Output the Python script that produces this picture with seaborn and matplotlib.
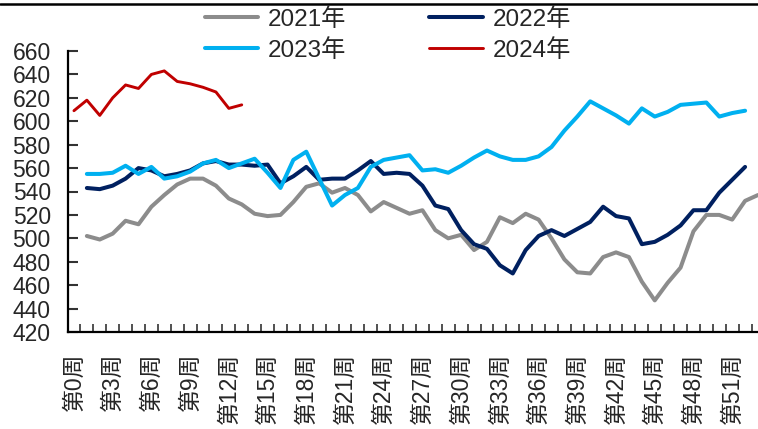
import numpy as np
import pandas as pd
import matplotlib
matplotlib.use("Agg")
import matplotlib.pyplot as plt
import seaborn as sns

# =========================================
# DATA
# =========================================

weeks_2021 = list(range(1, 54))
price_2021 = [502, 499, 504, 515, 512, 527, 537, 546, 551, 551,
              545, 534, 529, 521, 519, 520, 531, 544, 547, 539,
              543, 537, 523, 531, 526, 521, 524, 507, 500, 503,
              490, 497, 518, 513, 521, 516, 500, 482, 471, 470,
              484, 488, 484, 463, 447, 462, 475, 506, 520, 520,
              516, 532, 537]

weeks_2022 = list(range(1, 53))
price_2022 = [543, 542, 545, 551, 560, 558, 553, 555, 558, 564,
              566, 563, 563, 562, 563, 547, 553, 561, 550, 551,
              551, 558, 566, 555, 556, 555, 545, 528, 525, 507,
              495, 491, 477, 470, 490, 502, 507, 502, 508, 514,
              527, 519, 517, 495, 497, 503, 511, 524, 524, 539,
              550, 561]

weeks_2023 = list(range(1, 53))
price_2023 = [555, 555, 556, 562, 555, 561, 551, 553, 557, 564,
              567, 560, 564, 568, 556, 543, 567, 574, 551, 528,
              537, 543, 561, 567, 569, 571, 558, 559, 556, 562,
              569, 575, 570, 567, 567, 570, 578, 592, 604, 617,
              611, 605, 598, 611, 604, 608, 614, 615, 616, 604,
              607, 609]

weeks_2024 = list(range(0, 14))
price_2024 = [609, 618, 605, 620, 631, 628, 640, 643, 634, 632,
              629, 625, 611, 614]

tick_weeks = list(range(0, 52, 3))
tick_labels = [f"第{w}周" for w in tick_weeks]
y_ticks = list(range(420, 661, 20))

# =========================================
# STYLE
# =========================================

sns.set_style("white")
plt.rcParams["font.family"] = ["Liberation Sans", "Noto Sans CJK SC", "DejaVu Sans"]

fig = plt.figure(figsize=(7.58, 4.29), dpi=100)
ax = fig.add_axes([67.5 / 758, 1 - 332 / 429, 1 - 67.5 / 758, (332 - 51) / 429])

series = [
    ("2021年", weeks_2021, price_2021, "#8c8c8c", 2.9),
    ("2022年", weeks_2022, price_2022, "#002060", 2.9),
    ("2023年", weeks_2023, price_2023, "#00b0f0", 2.9),
    ("2024年", weeks_2024, price_2024, "#c00000", 2.1),
]

for name, w, p, c, lw in series:
    sns.lineplot(x=w, y=p, ax=ax, color=c, linewidth=lw, label=name,
                 solid_joinstyle="round", solid_capstyle="round")

# =========================================
# AXES
# =========================================

ax.set_xlim(-0.5, 53.0)
ax.set_ylim(420, 660)
ax.set_yticks(y_ticks)
ax.set_xticks(tick_weeks)
ax.set_xticklabels(tick_labels, rotation=90, fontsize=16.5)
ax.set_xticks(np.arange(0.5, 53, 1), minor=True)
ax.tick_params(axis="y", left=True, direction="in", length=7, width=1.5,
               pad=12, labelsize=16.5, color="#333333")
ax.tick_params(axis="x", which="major", bottom=True, direction="in",
               length=0, pad=15)
ax.tick_params(axis="x", which="minor", bottom=True, direction="in",
               length=6, width=1.2, color="#333333")
ax.set_xlabel("")
ax.set_ylabel("")

for side in ["top", "right"]:
    ax.spines[side].set_visible(False)
for side in ["left", "bottom"]:
    ax.spines[side].set_linewidth(1.6)
    ax.spines[side].set_color("black")

# =========================================
# LEGEND
# =========================================

handles, labels = ax.get_legend_handles_labels()
order = [0, 2, 1, 3]
ax.get_legend().remove()
fig.legend([handles[i] for i in order], [labels[i] for i in order],
           loc="upper left", bbox_to_anchor=(205 / 758, 1 - 8 / 429),
           ncol=2, frameon=False, fontsize=17.5, handlelength=2.2,
           handletextpad=0.4, columnspacing=3.4, labelspacing=0.32,
           borderpad=0, borderaxespad=0)

fig.add_artist(plt.Line2D([0, 1], [1 - 4 / 429, 1 - 4 / 429],
                          color="black", linewidth=1.8,
                          transform=fig.transFigure))

fig.savefig("out.png", dpi=100)
plt.close()
